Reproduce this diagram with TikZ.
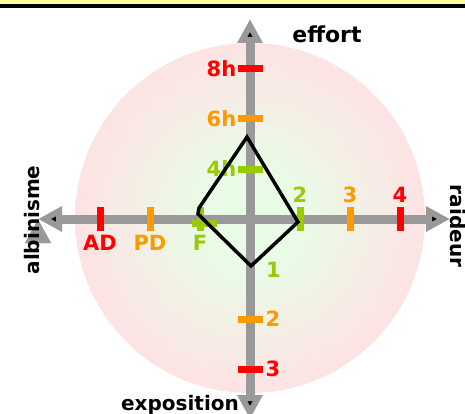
\documentclass[tikz,border=0pt]{standalone}
\usepackage{fontspec}
\setmainfont{DejaVu Sans}
\usetikzlibrary{arrows.meta,positioning}
\definecolor{axgray}{RGB}{153,153,153}
\definecolor{lvred}{RGB}{255,0,0}
\definecolor{lvorange}{RGB}{255,153,0}
\definecolor{lvgreen}{RGB}{153,204,0}
\definecolor{baryellow}{RGB}{255,255,153}
\definecolor{discin}{RGB}{232,252,230}
\definecolor{discout}{RGB}{253,228,228}
\pgfdeclareradialshading{disc}{\pgfpoint{0bp}{0bp}}{color(0bp)=(discin); color(7bp)=(discin); color(24bp)=(discout); color(50bp)=(discout)}

\begin{document}
\begin{tikzpicture}[x=1pt,y=-1pt,
		axisline/.style={draw=axgray,line width=9pt,>={Triangle[width=24pt,length=24pt]},<->},
		hmark/.style={minimum width=25pt,minimum height=7pt,inner sep=0pt,outer sep=0pt},
		vmark/.style={minimum width=7pt,minimum height=24pt,inner sep=0pt,outer sep=0pt},
		lvl/.style={font=\bfseries\fontsize{21}{25}\selectfont,inner sep=0pt},
		ttl/.style={font=\bfseries\fontsize{20}{24}\selectfont,inner sep=0pt}]
			\useasboundingbox (0,0) rectangle (465,414);
			\fill[baryellow] (0,0) rectangle (465,4.5);
			\fill[black] (0,4.5) rectangle (465,8);
			\coordinate (O) at (250,219);
			\shade[shading=disc] (250,218) circle (175pt);
			\coordinate (ax-n) at (250,19);
			\coordinate (ax-s) at (250,419);
			\coordinate (ax-w) at (38,219);
			\coordinate (ax-e) at (450,219);
			\path[axisline]
			(ax-s) edge (ax-n)
			(ax-w) edge (ax-e);
			\node[hmark,fill=lvred] (t8h) at (250,69) {};
			\node[hmark,fill=lvorange] (t6h) at (250,119) {};
			\node[hmark,fill=lvgreen] (t4h) at (250,169) {};
			\node[hmark,fill=lvorange] (te2) at (250,319) {};
			\node[hmark,fill=lvred] (te3) at (250,369) {};
			\node[vmark,fill=lvred] (tad) at (100,219) {};
			\node[vmark,fill=lvorange] (tpd) at (150,219) {};
			\node[vmark,fill=lvgreen] (tf) at (200,219) {};
			\node[hmark,fill=lvgreen] (tf') at (204,223) {};
			\node[vmark,fill=lvgreen] (tr2) at (300,219) {};
			\node[vmark,fill=lvorange] (tr3) at (350,219) {};
			\node[vmark,fill=lvred] (tr4) at (400,219) {};
			\node[lvl,lvred,left=1pt of t8h] (l8h) {8h};
			\node[lvl,lvorange,left=1pt of t6h] (l6h) {6h};
			\node[lvl,lvgreen,left=1pt of t4h] (l4h) {4h};
			\node[lvl,lvorange,right=3pt of te2] (le2) {2};
			\node[lvl,lvred,right=3pt of te3] (le3) {3};
			\node[lvl,lvgreen,anchor=west] (le1) at (266,270) {1};
			\node[lvl,lvred,below=4pt of tad] (lad) {AD};
			\node[lvl,lvorange,below=4pt of tpd] (lpd) {PD};
			\node[lvl,lvgreen,below=4pt of tf] (lf) {F};
			\node[lvl,lvgreen,above=4pt of tr2] (lr2) {2};
			\node[lvl,lvorange,above=4pt of tr3] (lr3) {3};
			\node[lvl,lvred,above=4pt of tr4] (lr4) {4};
			\coordinate (eff) at (247,137);
			\coordinate (rai) at (298,222);
			\coordinate (exp) at (251,266);
			\coordinate (alb) at (198,214);
			\coordinate (alb') at (199,208);
			\draw[line width=3.5pt] (alb') -- (eff) -- (rai) -- (exp) -- (alb) -- cycle;
			\node[ttl,font=\bfseries\fontsize{22}{26}\selectfont,anchor=base] (teff) at (327,43) {effort};
			\node[ttl,anchor=base] (texp) at (180,410) {exposition};
			\node[ttl,rotate=90,anchor=base] (talb) at (39,220) {albinisme};
			\node[ttl,rotate=-90,anchor=base] (trai) at (450,226) {raideur};
		\end{tikzpicture}
\end{document}
